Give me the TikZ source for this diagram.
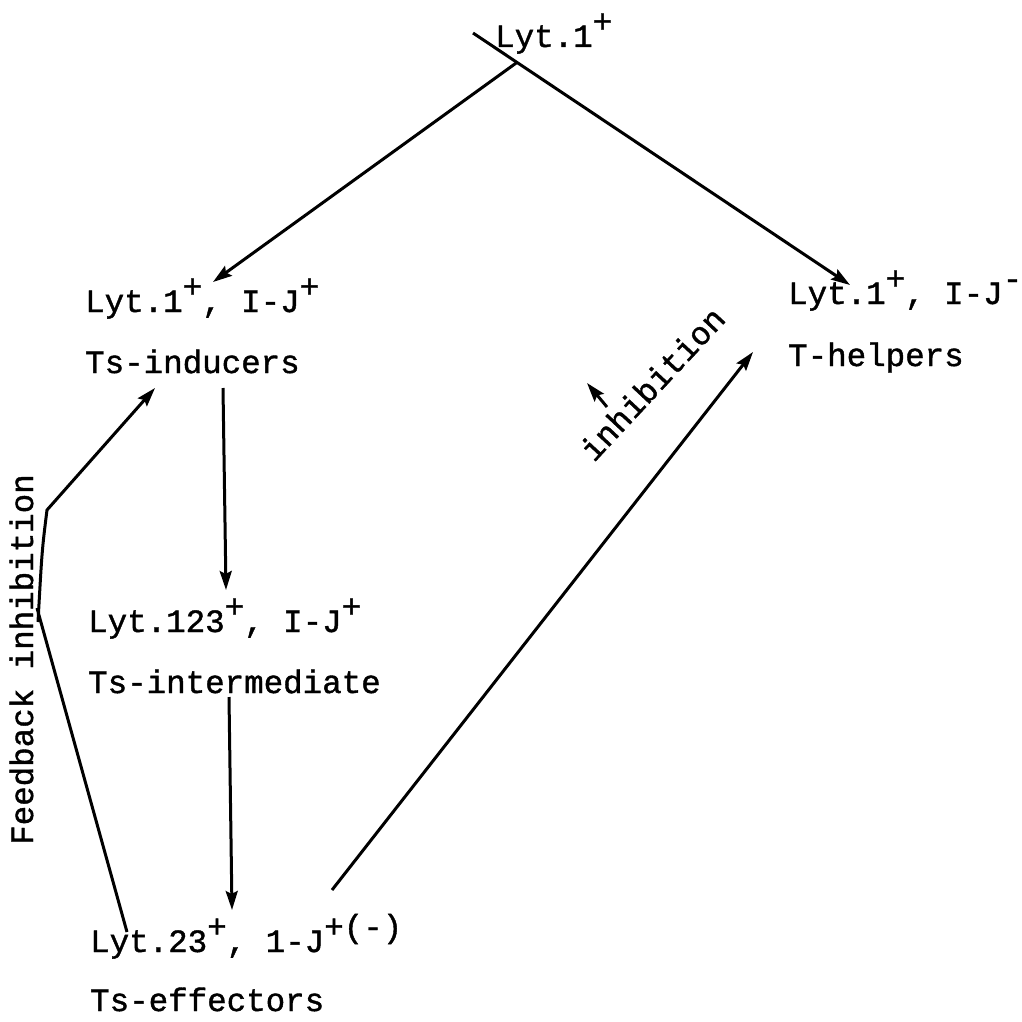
\documentclass[tikz,border=0pt]{standalone}
\usepackage{fontspec}
\newfontfamily\tw[FakeBold=1.2]{Liberation Mono}
\usetikzlibrary{arrows.meta}
\newcommand\rsup[1]{\raisebox{0.45em}{#1}}
\begin{document}
\begin{tikzpicture}[x=1pt,y=-1pt,
  txt/.style={inner sep=0pt, anchor=base west, font=\tw\fontsize{32.5}{39}\selectfont},
  conn/.style={line width=3pt},
  arr/.style={conn, -{Stealth[length=19pt,width=12pt,inset=3pt]}}]
\useasboundingbox (0,0) rectangle (1021,1022);
% texts
\node[txt] (top)  at (495,47)  {Lyt.1\rsup{+}};
\node[txt] (ind)  at (85,312)  {Lyt.1\rsup{+}, I-J\rsup{+}};
\node[txt] (indn) at (85,373)  {Ts-inducers};
\node[txt] (hel)  at (788,304) {Lyt.1\rsup{+}, I-J\rsup{-}};
\node[txt] (heln) at (788,366) {T-helpers};
\node[txt] (int)  at (88,632)  {Lyt.123\rsup{+}, I-J\rsup{+}};
\node[txt] (intn) at (88,693)  {Ts-intermediate};
\node[txt] (eff)  at (90,952)  {Lyt.23\rsup{+}, 1-J\rsup{+(-)}};
\node[txt] (effn) at (90,1011) {Ts-effectors};
\node[txt, rotate=90] (fb)  at (33,845)  {Feedback inhibition};
\node[txt, rotate=47] (inh) at (594,463) {inhibition};
% connector end points
\coordinate (tA) at (473,33);
\coordinate (tJ) at (517,62.4);
\coordinate (tR) at (850,285);
\coordinate (tL) at (213,282);
\coordinate (d1s) at (223,388);
\coordinate (d1e) at (226,590);
\coordinate (d2s) at (229,697);
\coordinate (d2e) at (232,910);
\coordinate (iS) at (332,890);
\coordinate (iE) at (753,352);
\coordinate (sS) at (607,407);
\coordinate (sE) at (587,383);
\coordinate (fA) at (127,932);
\coordinate (fB) at (37,608);
\coordinate (fC) at (38,622);
\coordinate (fD) at (47,510);
\coordinate (fE) at (155,388);
% connectors
\draw[arr] (tA) -- (tR);
\draw[arr] (tJ) -- (tL);
\draw[arr] (d1s) -- (d1e);
\draw[arr] (d2s) -- (d2e);
\draw[arr] (iS) -- (iE);
\draw[arr] (sS) -- (sE);
\draw[conn] (fA) -- (fB);
\draw[arr] (fC) .. controls (42,550) .. (fD) -- (fE);
\end{tikzpicture}
\end{document}
